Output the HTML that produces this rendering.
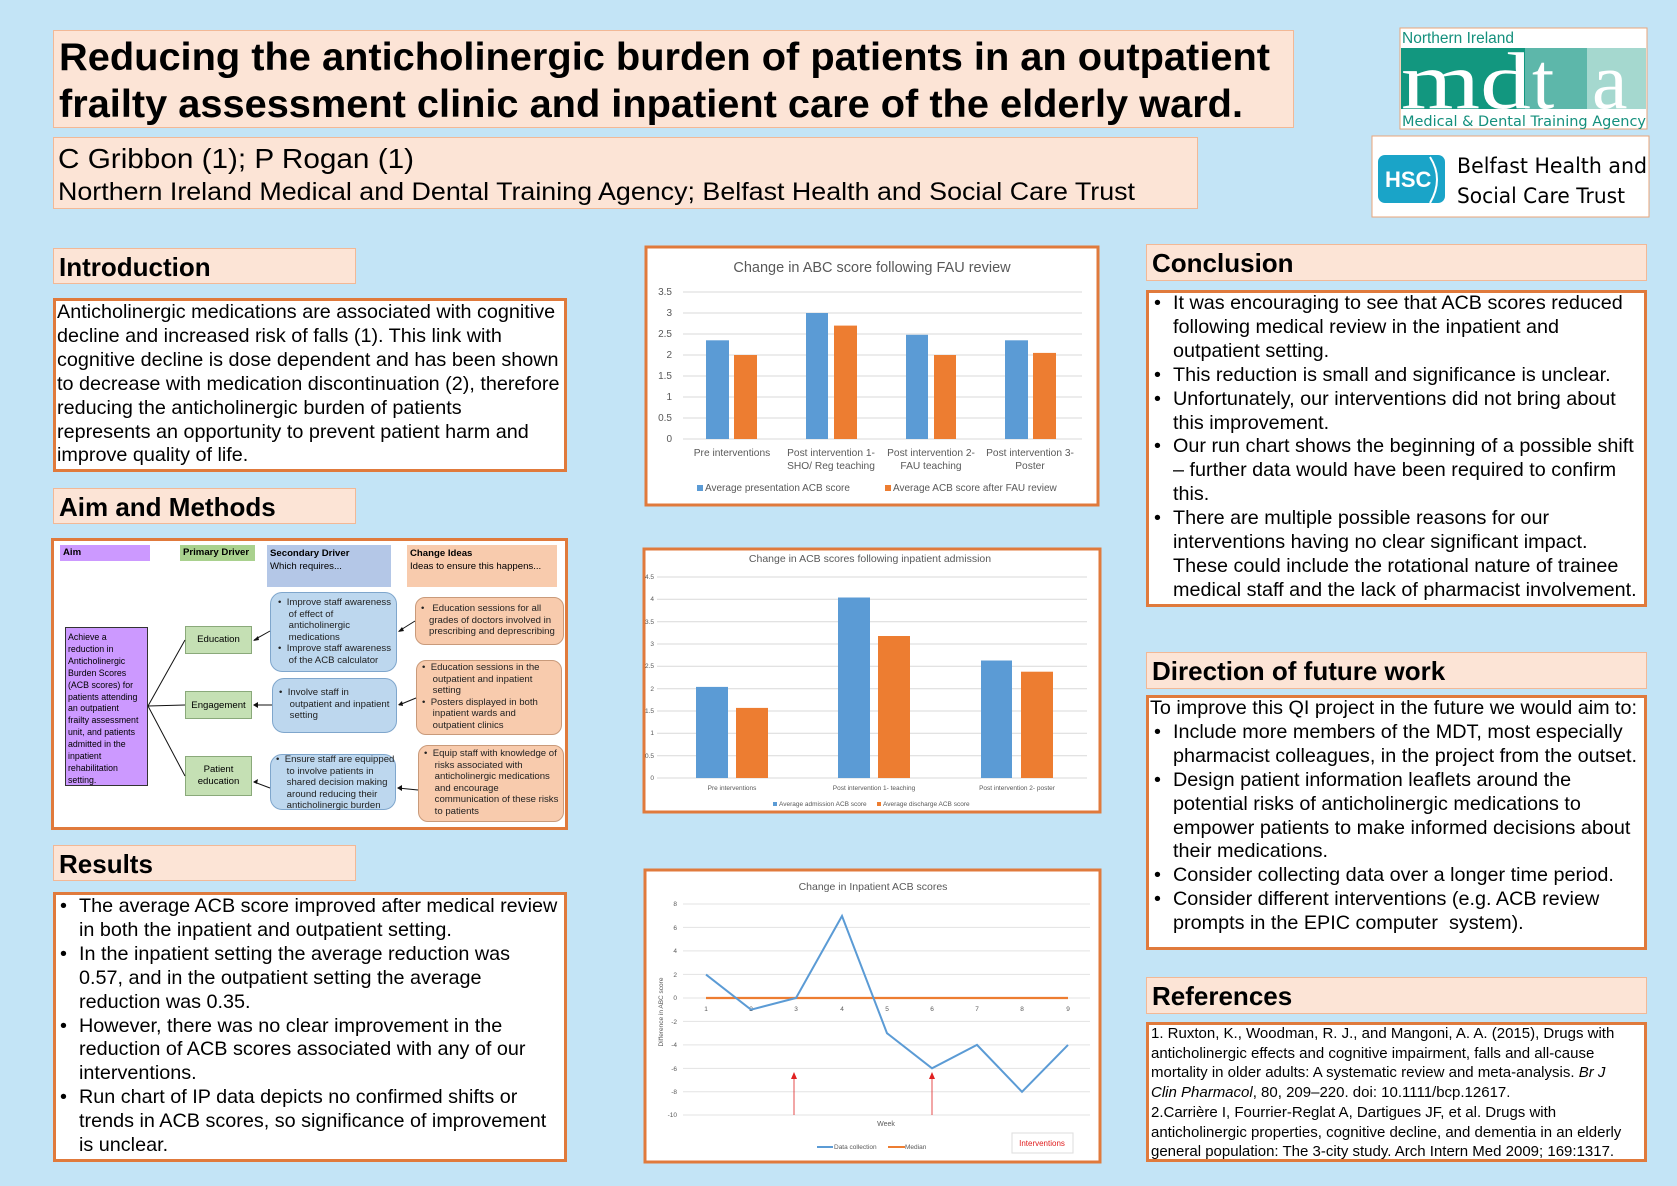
<!DOCTYPE html>
<html><head><meta charset="utf-8"><style>
*{margin:0;padding:0;box-sizing:border-box}
body{width:1677px;height:1186px;background:#c3e4f6;position:relative;overflow:hidden;font-family:"Liberation Sans",Arial,sans-serif;color:#000}
.a{position:absolute}
.hd{position:absolute;background:#fce4d6;border:1px solid #f2b896;font-weight:bold;font-size:26px;padding-left:5px;line-height:36px}
.bx{position:absolute;background:#fff;border:3px solid #e07a3c}
.tx{position:absolute;font-size:19.8px;line-height:23.9px;white-space:nowrap}
.tx div{position:relative}
.b{padding-left:21px}
.b:before{content:"•";position:absolute;left:2px}
.p{padding-left:21px}
.d{position:absolute;font-size:9.6px;line-height:11.6px;color:#222;white-space:nowrap}
.dg{position:absolute}
</style></head><body>

<div class="a" style="left:53px;top:30px;width:1241px;height:98px;background:#fce4d6;border:1px solid #f2b896"></div>
<div class="a" style="left:53px;top:137px;width:1145px;height:72px;background:#fce4d6;border:1px solid #f2b896"></div>
<svg class="a" style="left:0;top:0" width="1677" height="230">
<text x="59" y="70" font-family="Liberation Sans" font-weight="bold" font-size="39" textLength="1211" lengthAdjust="spacingAndGlyphs">Reducing the anticholinergic burden of patients in an outpatient</text>
<text x="59" y="117" font-family="Liberation Sans" font-weight="bold" font-size="39" textLength="1184" lengthAdjust="spacingAndGlyphs">frailty assessment clinic and inpatient care of the elderly ward.</text>
<text x="58" y="168" font-family="Liberation Sans" font-size="28" textLength="356" lengthAdjust="spacingAndGlyphs">C Gribbon (1); P Rogan (1)</text>
<text x="58" y="200" font-family="Liberation Sans" font-size="25" textLength="1077" lengthAdjust="spacingAndGlyphs">Northern Ireland Medical and Dental Training Agency; Belfast Health and Social Care Trust</text>
<rect x="1400" y="28" width="247" height="101" fill="#fff" stroke="#e8a57a" stroke-width="1"/>
<text x="1402" y="43" font-family="Liberation Sans" font-size="15.5" fill="#14907d">Northern Ireland</text>
<rect x="1401" y="48" width="124" height="61" fill="#12977f"/>
<rect x="1525" y="48" width="62" height="61" fill="#5db7aa"/>
<rect x="1587" y="48" width="59" height="61" fill="#a5d8cf"/>
<text x="1401" y="108" font-family="Liberation Serif" font-size="80" fill="#fff" textLength="130" lengthAdjust="spacingAndGlyphs">md</text>
<text x="1532" y="108" font-family="Liberation Serif" font-size="80" fill="#fff">t</text>
<text x="1592" y="108" font-family="Liberation Serif" font-size="80" fill="#fff">a</text>
<text x="1402" y="126" font-family="DejaVu Sans" font-size="14" fill="#14907d" textLength="244" lengthAdjust="spacingAndGlyphs">Medical &amp; Dental Training Agency</text>
<rect x="1372" y="136" width="277" height="81" fill="#fff" stroke="#e8a57a" stroke-width="1"/>
<rect x="1378" y="155" width="67" height="48" rx="7" fill="#1aa4c8"/>
<text x="1385" y="187" font-family="Liberation Sans" font-weight="bold" font-size="22" fill="#fff">HSC</text>
<path d="M1430 157 q14 22 0 46" stroke="#fff" stroke-width="2" fill="none"/>
<text x="1457" y="173" font-family="DejaVu Sans" font-size="21" textLength="190" lengthAdjust="spacingAndGlyphs">Belfast Health and</text>
<text x="1457" y="203" font-family="DejaVu Sans" font-size="21" textLength="168" lengthAdjust="spacingAndGlyphs">Social Care Trust</text>
</svg>

<div class="hd" style="left:53px;top:248px;width:303px;height:36px">Introduction</div>
<div class="bx" style="left:53px;top:298px;width:514px;height:174px"></div>
<div class="tx" style="left:57px;top:301px">
<div>Anticholinergic medications are associated with cognitive</div>
<div>decline and increased risk of falls (1). This link with</div>
<div>cognitive decline is dose dependent and has been shown</div>
<div>to decrease with medication discontinuation (2), therefore</div>
<div>reducing the anticholinergic burden of patients</div>
<div>represents an opportunity to prevent patient harm and</div>
<div>improve quality of life.</div>
</div>

<div class="hd" style="left:53px;top:488px;width:303px;height:36px">Aim and Methods</div>
<div class="bx" style="left:51px;top:538px;width:517px;height:292px"></div>
<div class="a" style="left:51px;top:538px;width:517px;height:292px">
 <div class="dg" style="left:9px;top:7px;width:90px;height:16px;background:#cc99ff;font-size:9.6px;font-weight:bold;padding:2px 3px">Aim</div>
 <div class="dg" style="left:129px;top:7px;width:75px;height:16px;background:#a9d18e;font-size:9.6px;font-weight:bold;padding:2px 3px">Primary Driver</div>
 <div class="dg" style="left:216px;top:7px;width:124px;height:42px;background:#b4c7e7;font-size:9.6px;line-height:13px;padding:2px 3px"><b>Secondary Driver</b><br>Which requires...</div>
 <div class="dg" style="left:356px;top:7px;width:150px;height:42px;background:#f8cbad;font-size:9.6px;line-height:13px;padding:2px 3px"><b>Change Ideas</b><br>Ideas to ensure this happens...</div>
 <div class="dg" style="left:14px;top:89px;width:83px;height:159px;background:#cc99ff;border:1px solid #333;font-size:8.8px;line-height:11.9px;padding:4px 2px;white-space:nowrap;overflow:hidden">Achieve a<br>reduction in<br>Anticholinergic<br>Burden Scores<br>(ACB scores) for<br>patients attending<br>an outpatient<br>frailty assessment<br>unit, and patients<br>admitted in the<br>inpatient<br>rehabilitation<br>setting.</div>
 <div class="dg" style="left:134px;top:88px;width:67px;height:28px;background:#c5e0b4;border:1px solid #8aa97a;font-size:9.6px;text-align:center;line-height:26px">Education</div>
 <div class="dg" style="left:134px;top:153px;width:67px;height:28px;background:#c5e0b4;border:1px solid #8aa97a;font-size:9.6px;text-align:center;line-height:28px">Engagement</div>
 <div class="dg" style="left:134px;top:218px;width:67px;height:40px;background:#c5e0b4;border:1px solid #8aa97a;font-size:9.6px;text-align:center;line-height:12px;padding-top:7px">Patient<br>education</div>
 <div class="dg" style="left:219px;top:54px;width:127px;height:80px;background:#bdd7ee;border:1px solid #7fa6cc;border-radius:12px"></div>
 <div class="d" style="left:227px;top:59px">•&nbsp;&nbsp;Improve staff awareness<br>&nbsp;&nbsp;&nbsp;&nbsp;of effect of<br>&nbsp;&nbsp;&nbsp;&nbsp;anticholinergic<br>&nbsp;&nbsp;&nbsp;&nbsp;medications<br>•&nbsp;&nbsp;Improve staff awareness<br>&nbsp;&nbsp;&nbsp;&nbsp;of the ACB calculator</div>
 <div class="dg" style="left:221px;top:140px;width:125px;height:55px;background:#bdd7ee;border:1px solid #7fa6cc;border-radius:12px"></div>
 <div class="d" style="left:228px;top:149px">•&nbsp;&nbsp;Involve staff in<br>&nbsp;&nbsp;&nbsp;&nbsp;outpatient and inpatient<br>&nbsp;&nbsp;&nbsp;&nbsp;setting</div>
 <div class="dg" style="left:219px;top:216px;width:126px;height:56px;background:#bdd7ee;border:1px solid #7fa6cc;border-radius:12px"></div>
 <div class="d" style="left:225px;top:216px">•&nbsp;&nbsp;Ensure staff are equipped<br>&nbsp;&nbsp;&nbsp;&nbsp;to involve patients in<br>&nbsp;&nbsp;&nbsp;&nbsp;shared decision making<br>&nbsp;&nbsp;&nbsp;&nbsp;around reducing their<br>&nbsp;&nbsp;&nbsp;&nbsp;anticholinergic burden</div>
 <div class="dg" style="left:364px;top:59px;width:149px;height:48px;background:#f8cbad;border:1px solid #c99a7a;border-radius:10px"></div>
 <div class="d" style="left:370px;top:65px">•&nbsp;&nbsp;&nbsp;Education sessions for all<br>&nbsp;&nbsp;&nbsp;grades of doctors involved in<br>&nbsp;&nbsp;&nbsp;prescribing and deprescribing</div>
 <div class="dg" style="left:365px;top:122px;width:146px;height:75px;background:#f8cbad;border:1px solid #c99a7a;border-radius:10px"></div>
 <div class="d" style="left:371px;top:124px">•&nbsp;&nbsp;Education sessions in the<br>&nbsp;&nbsp;&nbsp;&nbsp;outpatient and inpatient<br>&nbsp;&nbsp;&nbsp;&nbsp;setting<br>•&nbsp;&nbsp;Posters displayed in both<br>&nbsp;&nbsp;&nbsp;&nbsp;inpatient wards and<br>&nbsp;&nbsp;&nbsp;&nbsp;outpatient clinics</div>
 <div class="dg" style="left:367px;top:207px;width:146px;height:77px;background:#f8cbad;border:1px solid #c99a7a;border-radius:10px"></div>
 <div class="d" style="left:373px;top:210px">•&nbsp;&nbsp;Equip staff with knowledge of<br>&nbsp;&nbsp;&nbsp;&nbsp;risks associated with<br>&nbsp;&nbsp;&nbsp;&nbsp;anticholinergic medications<br>&nbsp;&nbsp;&nbsp;&nbsp;and encourage<br>&nbsp;&nbsp;&nbsp;&nbsp;communication of these risks<br>&nbsp;&nbsp;&nbsp;&nbsp;to patients</div>
 <svg class="a" style="left:0;top:0" width="517" height="292">
  <g stroke="#111" stroke-width="1" fill="none">
   <path d="M97 168 L134 102 M97 168 L134 167 M97 168 L134 238"/>
   <path d="M219 93 L203 102 M221 167 L203 167 M219 250 L203 244 M364 83 L348 93 M365 160 L348 167 M367 252 L347 250"/>
  </g>
  <g fill="#111">
   <path d="M202 103 l5 -5 l1 4z M202 167 l5 -3 l0 6z M202 244 l5 -3 l-1 5z M347 94 l4 -5 l2 4z M347 167 l4 -4 l1 5z M346 250 l5 -3 l0 6z"/>
  </g>
 </svg>
</div>

<div class="hd" style="left:53px;top:845px;width:303px;height:36px">Results</div>
<div class="bx" style="left:53px;top:892px;width:514px;height:270px"></div>
<div class="tx" style="left:58px;top:895px">
<div class="b">The average ACB score improved after medical review</div>
<div class="p">in both the inpatient and outpatient setting.</div>
<div class="b">In the inpatient setting the average reduction was</div>
<div class="p">0.57, and in the outpatient setting the average</div>
<div class="p">reduction was 0.35.</div>
<div class="b">However, there was no clear improvement in the</div>
<div class="p">reduction of ACB scores associated with any of our</div>
<div class="p">interventions.</div>
<div class="b">Run chart of IP data depicts no confirmed shifts or</div>
<div class="p">trends in ACB scores, so significance of improvement</div>
<div class="p">is unclear.</div>
</div>

<div class="hd" style="left:1146px;top:244px;width:501px;height:37px">Conclusion</div>
<div class="bx" style="left:1146px;top:290px;width:501px;height:317px"></div>
<div class="tx" style="left:1152px;top:292px">
<div class="b">It was encouraging to see that ACB scores reduced</div>
<div class="p">following medical review in the inpatient and</div>
<div class="p">outpatient setting.</div>
<div class="b">This reduction is small and significance is unclear.</div>
<div class="b">Unfortunately, our interventions did not bring about</div>
<div class="p">this improvement.</div>
<div class="b">Our run chart shows the beginning of a possible shift</div>
<div class="p">– further data would have been required to confirm</div>
<div class="p">this.</div>
<div class="b">There are multiple possible reasons for our</div>
<div class="p">interventions having no clear significant impact.</div>
<div class="p">These could include the rotational nature of trainee</div>
<div class="p">medical staff and the lack of pharmacist involvement.</div>
</div>

<div class="hd" style="left:1146px;top:652px;width:501px;height:37px">Direction of future work</div>
<div class="bx" style="left:1146px;top:695px;width:501px;height:255px"></div>
<div class="tx" style="left:1150px;top:697px">
<div>To improve this QI project in the future we would aim to:</div>
<div class="b" style="left:2px">Include more members of the MDT, most especially</div>
<div class="p" style="left:2px">pharmacist colleagues, in the project from the outset.</div>
<div class="b" style="left:2px">Design patient information leaflets around the</div>
<div class="p" style="left:2px">potential risks of anticholinergic medications to</div>
<div class="p" style="left:2px">empower patients to make informed decisions about</div>
<div class="p" style="left:2px">their medications.</div>
<div class="b" style="left:2px">Consider collecting data over a longer time period.</div>
<div class="b" style="left:2px">Consider different interventions (e.g. ACB review</div>
<div class="p" style="left:2px">prompts in the EPIC computer&nbsp; system).</div>
</div>

<div class="hd" style="left:1146px;top:977px;width:501px;height:37px">References</div>
<div class="bx" style="left:1146px;top:1022px;width:501px;height:140px"></div>
<div class="tx" style="left:1151px;top:1024px;font-size:15px;line-height:19.7px">
<div>1. Ruxton, K., Woodman, R. J., and Mangoni, A. A. (2015), Drugs with</div>
<div>anticholinergic effects and cognitive impairment, falls and all-cause</div>
<div>mortality in older adults: A systematic review and meta-analysis. <i>Br J</i></div>
<div><i>Clin Pharmacol</i>, 80, 209–220. doi: 10.1111/bcp.12617.</div>
<div>2.Carrière I, Fourrier-Reglat A, Dartigues JF, et al. Drugs with</div>
<div>anticholinergic properties, cognitive decline, and dementia in an elderly</div>
<div>general population: The 3-city study. Arch Intern Med 2009; 169:1317.</div>
</div>

<svg class="a" style="left:0;top:0" width="1677" height="1186" font-family="Liberation Sans">
<rect x="646" y="247" width="452" height="258" fill="#fff" stroke="#e07a3c" stroke-width="3"/>
<text x="872" y="272" font-size="14.5" fill="#595959" text-anchor="middle">Change in ABC score following FAU review</text>
<g stroke="#d9d9d9" stroke-width="1">
<line x1="683" x2="1082" y1="292" y2="292"/><line x1="683" x2="1082" y1="313" y2="313"/><line x1="683" x2="1082" y1="334" y2="334"/><line x1="683" x2="1082" y1="355" y2="355"/><line x1="683" x2="1082" y1="376" y2="376"/><line x1="683" x2="1082" y1="397" y2="397"/><line x1="683" x2="1082" y1="418" y2="418"/><line x1="683" x2="1082" y1="439" y2="439"/>
</g>
<g font-size="10" fill="#595959" text-anchor="end">
<text x="672" y="295">3.5</text><text x="672" y="316">3</text><text x="672" y="337">2.5</text><text x="672" y="358">2</text><text x="672" y="379">1.5</text><text x="672" y="400">1</text><text x="672" y="421">0.5</text><text x="672" y="442">0</text>
</g>
<g fill="#5b9bd5"><rect x="706" y="340.3" width="23" height="98.7"/><rect x="806" y="313" width="22" height="126"/><rect x="906" y="334.8" width="22" height="104.2"/><rect x="1005" y="340.3" width="23" height="98.7"/></g>
<g fill="#ed7d31"><rect x="734" y="355" width="23" height="84"/><rect x="834" y="325.6" width="23" height="113.4"/><rect x="934" y="355" width="22" height="84"/><rect x="1033" y="352.9" width="23" height="86.1"/></g>
<g font-size="10.2" fill="#595959" text-anchor="middle">
<text x="732" y="456">Pre interventions</text>
<text x="831" y="456">Post intervention 1-</text><text x="831" y="469">SHO/ Reg teaching</text>
<text x="931" y="456">Post intervention 2-</text><text x="931" y="469">FAU teaching</text>
<text x="1030" y="456">Post intervention 3-</text><text x="1030" y="469">Poster</text>
</g>
<rect x="697" y="485" width="6" height="6" fill="#5b9bd5"/><text x="705" y="491" font-size="10" fill="#595959">Average presentation ACB score</text>
<rect x="885" y="485" width="6" height="6" fill="#ed7d31"/><text x="893" y="491" font-size="10" fill="#595959">Average  ACB score after FAU review</text>

<rect x="644" y="549" width="456" height="263" fill="#fff" stroke="#e07a3c" stroke-width="3"/>
<text x="870" y="562" font-size="10.5" fill="#595959" text-anchor="middle">Change in ACB scores following inpatient admission</text>
<g stroke="#d9d9d9" stroke-width="1">
<line x1="657" x2="1087" y1="577" y2="577"/><line x1="657" x2="1087" y1="599.3" y2="599.3"/><line x1="657" x2="1087" y1="621.7" y2="621.7"/><line x1="657" x2="1087" y1="644" y2="644"/><line x1="657" x2="1087" y1="666.3" y2="666.3"/><line x1="657" x2="1087" y1="688.7" y2="688.7"/><line x1="657" x2="1087" y1="711" y2="711"/><line x1="657" x2="1087" y1="733.3" y2="733.3"/><line x1="657" x2="1087" y1="755.7" y2="755.7"/><line x1="657" x2="1087" y1="778" y2="778"/>
</g>
<g font-size="6.5" fill="#595959" text-anchor="end">
<text x="654" y="579">4.5</text><text x="654" y="601">4</text><text x="654" y="624">3.5</text><text x="654" y="646">3</text><text x="654" y="668">2.5</text><text x="654" y="691">2</text><text x="654" y="713">1.5</text><text x="654" y="735">1</text><text x="654" y="758">0.5</text><text x="654" y="780">0</text>
</g>
<g fill="#5b9bd5"><rect x="696" y="686.9" width="32" height="91.1"/><rect x="838" y="597.5" width="32" height="180.5"/><rect x="981" y="660.5" width="31" height="117.5"/></g>
<g fill="#ed7d31"><rect x="736" y="707.9" width="32" height="70.1"/><rect x="878" y="636" width="32" height="142"/><rect x="1021" y="671.7" width="32" height="106.3"/></g>
<g font-size="6.5" fill="#595959" text-anchor="middle">
<text x="732" y="790">Pre interventions</text><text x="874" y="790">Post intervention 1- teaching</text><text x="1017" y="790">Post intervention 2- poster</text>
</g>
<rect x="773" y="802" width="4" height="4" fill="#5b9bd5"/><text x="779" y="806" font-size="6.5" fill="#595959">Average admission ACB score</text>
<rect x="877" y="802" width="4" height="4" fill="#ed7d31"/><text x="883" y="806" font-size="6.5" fill="#595959">Average discharge ACB score</text>

<rect x="645" y="870" width="455" height="292" fill="#fff" stroke="#e07a3c" stroke-width="3"/>
<text x="873" y="890" font-size="10.5" fill="#595959" text-anchor="middle">Change in Inpatient ACB scores</text>
<g stroke="#e3e3e3" stroke-width="1">
<line x1="683" x2="1090" y1="904" y2="904"/><line x1="683" x2="1090" y1="927.4" y2="927.4"/><line x1="683" x2="1090" y1="950.9" y2="950.9"/><line x1="683" x2="1090" y1="974.4" y2="974.4"/><line x1="683" x2="1090" y1="998" y2="998"/><line x1="683" x2="1090" y1="1021.4" y2="1021.4"/><line x1="683" x2="1090" y1="1044.9" y2="1044.9"/><line x1="683" x2="1090" y1="1068.4" y2="1068.4"/><line x1="683" x2="1090" y1="1091.8" y2="1091.8"/><line x1="683" x2="1090" y1="1115" y2="1115"/>
</g>
<g font-size="6.5" fill="#595959" text-anchor="end">
<text x="677" y="906">8</text><text x="677" y="930">6</text><text x="677" y="953">4</text><text x="677" y="977">2</text><text x="677" y="1000">0</text><text x="677" y="1024">-2</text><text x="677" y="1047">-4</text><text x="677" y="1071">-6</text><text x="677" y="1094">-8</text><text x="677" y="1117">-10</text>
</g>
<text transform="translate(663,1012) rotate(-90)" font-size="6.5" fill="#595959" text-anchor="middle">Difference in ABC score</text>
<g font-size="6.5" fill="#595959" text-anchor="middle">
<text x="706" y="1011">1</text><text x="751" y="1011">2</text><text x="796" y="1011">3</text><text x="842" y="1011">4</text><text x="887" y="1011">5</text><text x="932" y="1011">6</text><text x="977" y="1011">7</text><text x="1022" y="1011">8</text><text x="1068" y="1011">9</text>
</g>
<line x1="706" x2="1068" y1="998" y2="998" stroke="#ed7d31" stroke-width="2.2"/>
<polyline points="706,974.6 751,1009.7 796,998 842,916 887,1033.2 932,1068.3 977,1044.9 1022,1091.8 1068,1044.9" fill="none" stroke="#5b9bd5" stroke-width="2"/>
<g stroke="#e02020" stroke-width="0.8"><line x1="794" x2="794" y1="1115" y2="1078"/><line x1="932" x2="932" y1="1115" y2="1078"/></g>
<g fill="#e02020"><path d="M791 1079 L794 1072 L797 1079z"/><path d="M929 1079 L932 1072 L935 1079z"/></g>
<text x="886" y="1126" font-size="7" fill="#595959" text-anchor="middle">Week</text>
<line x1="817" x2="833" y1="1147" y2="1147" stroke="#5b9bd5" stroke-width="2"/><text x="834" y="1149" font-size="6.5" fill="#595959">Data collection</text>
<line x1="888" x2="905" y1="1147" y2="1147" stroke="#ed7d31" stroke-width="2"/><text x="905" y="1149" font-size="6.5" fill="#595959">Median</text>
<rect x="1012" y="1133" width="61" height="20" fill="#fff" stroke="#ddd"/>
<text x="1042" y="1146" font-size="8" fill="#e02020" text-anchor="middle">Interventions</text>
</svg>
</body></html>
